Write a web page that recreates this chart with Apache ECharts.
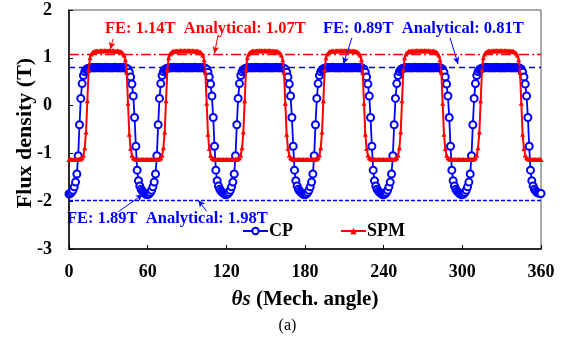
<!DOCTYPE html>
<html>
<head>
<meta charset="utf-8">
<script src="https://cdn.jsdelivr.net/npm/echarts@6/dist/echarts.min.js"></script>
<style>
html,body{margin:0;padding:0;background:#fff;}
#chart{width:575px;height:340px;}
</style>
</head>
<body>
<div id="chart"></div>
<script>
// Mechanical angle sampling (deg), 1 degree step from 0 to 360
const thetaStart = 0, thetaEnd = 360, thetaStep = 1;
const xTicks = [0, 60, 120, 180, 240, 300, 360];
const yTicks = [-3, -2, -1, 0, 1, 2];

// FE flux density of CP machine (T), theta = 0..360
const cpFE = [
-1.85,-1.84,-1.81,-1.77,-1.70,-1.60,-1.43,-1.05,-0.40,0.15,0.46,0.63,0.71,0.75,0.77,0.78,0.79,0.79,0.79,0.79,0.79,0.79,0.80,0.79,0.79,0.79,0.79,0.79,0.80,0.79,0.79,0.79,0.79,0.79,0.79,0.80,0.79,0.79,0.79,0.79,0.79,0.79,0.79,0.79,0.78,0.76,0.70,0.60,0.45,0.20,-0.25,-0.85,-1.35,-1.57,-1.68,-1.75,-1.79,-1.82,-1.84,-1.86,
-1.86,-1.85,-1.82,-1.77,-1.70,-1.60,-1.43,-1.05,-0.40,0.15,0.46,0.63,0.71,0.75,0.77,0.78,0.79,0.79,0.79,0.79,0.80,0.79,0.79,0.79,0.79,0.79,0.79,0.80,0.79,0.79,0.79,0.79,0.79,0.79,0.79,0.79,0.80,0.79,0.79,0.79,0.79,0.79,0.79,0.79,0.78,0.76,0.70,0.60,0.45,0.20,-0.25,-0.85,-1.35,-1.57,-1.68,-1.75,-1.79,-1.82,-1.84,-1.86,
-1.86,-1.85,-1.82,-1.77,-1.70,-1.60,-1.43,-1.05,-0.40,0.15,0.46,0.63,0.71,0.75,0.77,0.78,0.79,0.79,0.79,0.79,0.79,0.79,0.79,0.80,0.79,0.79,0.79,0.79,0.79,0.79,0.80,0.79,0.79,0.79,0.79,0.79,0.79,0.79,0.80,0.79,0.79,0.79,0.79,0.79,0.78,0.76,0.70,0.60,0.45,0.20,-0.25,-0.85,-1.35,-1.57,-1.68,-1.75,-1.79,-1.82,-1.84,-1.86,
-1.86,-1.85,-1.82,-1.77,-1.70,-1.60,-1.43,-1.05,-0.40,0.15,0.46,0.63,0.71,0.75,0.77,0.78,0.79,0.79,0.79,0.79,0.79,0.80,0.79,0.79,0.79,0.79,0.79,0.79,0.79,0.80,0.79,0.79,0.79,0.79,0.79,0.79,0.79,0.79,0.80,0.79,0.79,0.79,0.79,0.79,0.78,0.76,0.70,0.60,0.45,0.20,-0.25,-0.85,-1.35,-1.57,-1.68,-1.75,-1.79,-1.82,-1.84,-1.86,
-1.86,-1.85,-1.82,-1.77,-1.70,-1.60,-1.43,-1.05,-0.40,0.15,0.46,0.63,0.71,0.75,0.77,0.78,0.79,0.79,0.79,0.79,0.79,0.79,0.79,0.79,0.80,0.79,0.79,0.79,0.79,0.79,0.79,0.79,0.80,0.79,0.79,0.79,0.79,0.79,0.79,0.79,0.80,0.79,0.79,0.79,0.78,0.76,0.70,0.60,0.45,0.20,-0.25,-0.85,-1.35,-1.57,-1.68,-1.75,-1.79,-1.82,-1.84,-1.86,
-1.86,-1.85,-1.82,-1.77,-1.70,-1.60,-1.43,-1.05,-0.40,0.15,0.46,0.63,0.71,0.75,0.77,0.78,0.79,0.79,0.80,0.79,0.79,0.79,0.79,0.79,0.79,0.79,0.80,0.79,0.79,0.79,0.79,0.79,0.79,0.79,0.79,0.80,0.79,0.79,0.79,0.79,0.79,0.79,0.79,0.79,0.78,0.76,0.70,0.60,0.45,0.20,-0.25,-0.85,-1.35,-1.57,-1.68,-1.75,-1.79,-1.82,-1.83,-1.84,
-1.84
];

// FE flux density of SPM machine (T), theta = 0..360
const spmFE = [
-1.13,-1.13,-1.13,-1.13,-1.13,-1.13,-1.13,-1.12,-1.12,-1.11,-1.09,-1.04,-0.88,-0.55,0.10,0.75,1.00,1.08,1.11,1.13,1.14,1.14,1.14,1.14,1.15,1.15,1.15,1.15,1.15,1.15,1.15,1.15,1.15,1.15,1.15,1.14,1.14,1.14,1.14,1.13,1.12,1.10,1.06,0.96,0.70,0.05,-0.60,-0.90,-1.04,-1.09,-1.11,-1.12,-1.12,-1.13,-1.13,-1.13,-1.13,-1.13,-1.13,-1.13,
-1.13,-1.13,-1.13,-1.13,-1.13,-1.13,-1.13,-1.12,-1.12,-1.11,-1.09,-1.04,-0.88,-0.55,0.10,0.75,1.00,1.08,1.11,1.13,1.14,1.14,1.14,1.14,1.15,1.15,1.15,1.15,1.15,1.15,1.15,1.15,1.15,1.15,1.15,1.14,1.14,1.14,1.14,1.13,1.12,1.10,1.06,0.96,0.70,0.05,-0.60,-0.90,-1.04,-1.09,-1.11,-1.12,-1.12,-1.13,-1.13,-1.13,-1.13,-1.13,-1.13,-1.13,
-1.13,-1.13,-1.13,-1.13,-1.13,-1.13,-1.13,-1.12,-1.12,-1.11,-1.09,-1.04,-0.88,-0.55,0.10,0.75,1.00,1.08,1.11,1.13,1.14,1.14,1.14,1.14,1.15,1.15,1.15,1.15,1.15,1.15,1.15,1.15,1.15,1.15,1.15,1.14,1.14,1.14,1.14,1.13,1.12,1.10,1.06,0.96,0.70,0.05,-0.60,-0.90,-1.04,-1.09,-1.11,-1.12,-1.12,-1.13,-1.13,-1.13,-1.13,-1.13,-1.13,-1.13,
-1.13,-1.13,-1.13,-1.13,-1.13,-1.13,-1.13,-1.12,-1.12,-1.11,-1.09,-1.04,-0.88,-0.55,0.10,0.75,1.00,1.08,1.11,1.13,1.14,1.14,1.14,1.14,1.15,1.15,1.15,1.15,1.15,1.15,1.15,1.15,1.15,1.15,1.15,1.14,1.14,1.14,1.14,1.13,1.12,1.10,1.06,0.96,0.70,0.05,-0.60,-0.90,-1.04,-1.09,-1.11,-1.12,-1.12,-1.13,-1.13,-1.13,-1.13,-1.13,-1.13,-1.13,
-1.13,-1.13,-1.13,-1.13,-1.13,-1.13,-1.13,-1.12,-1.12,-1.11,-1.09,-1.04,-0.88,-0.55,0.10,0.75,1.00,1.08,1.11,1.13,1.14,1.14,1.14,1.14,1.15,1.15,1.15,1.15,1.15,1.15,1.15,1.15,1.15,1.15,1.15,1.14,1.14,1.14,1.14,1.13,1.12,1.10,1.06,0.96,0.70,0.05,-0.60,-0.90,-1.04,-1.09,-1.11,-1.12,-1.12,-1.13,-1.13,-1.13,-1.13,-1.13,-1.13,-1.13,
-1.13,-1.13,-1.13,-1.13,-1.13,-1.13,-1.13,-1.12,-1.12,-1.11,-1.09,-1.04,-0.88,-0.55,0.10,0.75,1.00,1.08,1.11,1.13,1.14,1.14,1.14,1.14,1.15,1.15,1.15,1.15,1.15,1.15,1.15,1.15,1.15,1.15,1.15,1.14,1.14,1.14,1.14,1.13,1.12,1.10,1.06,0.96,0.70,0.05,-0.60,-0.90,-1.04,-1.09,-1.11,-1.12,-1.12,-1.13,-1.13,-1.13,-1.13,-1.13,-1.13,-1.13,
-1.13
];

// Analytical reference levels (T)
const spmAnalyticalPeak = 1.07;
const cpAnalyticalPeak = 0.81;
const cpAnalyticalTrough = -1.98;

// Annotation texts
const annoSPM = 'FE: 1.14T  Analytical: 1.07T';
const annoCPTop = 'FE: 0.89T  Analytical: 0.81T';
const annoCPBottom = 'FE: 1.89T  Analytical: 1.98T';
const yAxisTitle = 'Flux density (T)';

const theta = [];
for (let t = thetaStart; t <= thetaEnd; t += thetaStep) theta.push(t);
const cpData = theta.map((t, i) => [t, cpFE[i]]);
const spmData = theta.map((t, i) => [t, spmFE[i]]);

const serif = 'Liberation Serif';
const BLUE = '#0000ff', RED = '#ff0000';

const chart = echarts.init(document.getElementById('chart'), null, {renderer: 'canvas'});

const blueArrowStyle = {color: BLUE, width: 1, type: 'solid'};
const redArrowStyle = {color: RED, width: 1, type: 'solid'};

const option = {
  animation: false,
  backgroundColor: '#fff',
  grid: {left: 69, right: 34, top: 10, bottom: 91, outerBoundsMode: 'none', containLabel: false,
         show: true, borderColor: '#555', borderWidth: 1, backgroundColor: 'transparent'},
  legend: {
    data: ['CP', 'SPM'],
    left: 237, top: 217,
    itemWidth: 25, itemHeight: 8, itemGap: 47,
    textStyle: {fontFamily: serif, fontWeight: 'bold', fontSize: 18, color: '#000', padding: [0, 0, 0, -4]}
  },
  xAxis: {
    type: 'value', min: xTicks[0], max: xTicks[xTicks.length - 1], interval: 60,
    axisLine: {onZero: false, lineStyle: {color: '#000', width: 1.5}},
    axisTick: {inside: true, length: 4, lineStyle: {color: '#000', width: 1}},
    axisLabel: {fontFamily: serif, fontWeight: 'bold', fontSize: 18, color: '#000', margin: 14},
    splitLine: {show: false},
    name: '{t|θs} (Mech. angle)',
    nameLocation: 'middle', nameGap: 40,
    nameTextStyle: {fontFamily: serif, fontWeight: 'bold', fontSize: 21, color: '#000',
      rich: {t: {fontFamily: serif, fontWeight: 'bold', fontStyle: 'italic', fontSize: 21, color: '#000'}}}
  },
  yAxis: {
    type: 'value', min: yTicks[0], max: yTicks[yTicks.length - 1], interval: 1,
    axisLine: {onZero: false, lineStyle: {color: '#000', width: 1.5}},
    axisTick: {inside: true, length: 4, lineStyle: {color: '#000', width: 1}},
    axisLabel: {fontFamily: serif, fontWeight: 'bold', fontSize: 18, color: '#000', margin: 17},
    splitLine: {show: false}
  },
  series: [
    {
      name: 'CP', type: 'line', data: cpData,
      symbol: 'emptyCircle', symbolSize: 7, showAllSymbol: true,
      lineStyle: {color: BLUE, width: 1.8},
      itemStyle: {color: BLUE, borderColor: BLUE, borderWidth: 1.2},
      z: 3,
      markLine: {
        silent: true, animation: false,
        label: {show: false},
        symbol: ['none', 'none'],
        lineStyle: {color: BLUE, width: 1.3, type: [6, 4]},
        data: [
          {yAxis: cpAnalyticalPeak},
          {yAxis: cpAnalyticalTrough, lineStyle: {color: BLUE, width: 1.3, type: [4, 2]}},
          [{coord: [215.8, 1.42], symbol: 'none', lineStyle: blueArrowStyle}, {coord: [209.3, 0.87], symbol: 'arrow', symbolSize: [5, 7]}],
          [{coord: [290.6, 1.42], symbol: 'none', lineStyle: blueArrowStyle}, {coord: [296.7, 0.87], symbol: 'arrow', symbolSize: [5, 7]}],
          [{coord: [37.6, -2.22], symbol: 'none', lineStyle: blueArrowStyle}, {coord: [56.3, -1.86], symbol: 'arrow', symbolSize: [5, 7]}],
          [{coord: [105.0, -2.21], symbol: 'none', lineStyle: blueArrowStyle}, {coord: [98.6, -1.98], symbol: 'arrow', symbolSize: [5, 7]}]
        ]
      }
    },
    {
      name: 'SPM', type: 'line', data: spmData,
      symbol: 'triangle', symbolSize: 5, showAllSymbol: true,
      lineStyle: {color: RED, width: 2},
      itemStyle: {color: RED},
      z: 4,
      markLine: {
        silent: true, animation: false,
        label: {show: false},
        symbol: ['none', 'none'],
        lineStyle: {color: RED, width: 1.3, type: [10, 3, 2, 3]},
        data: [
          {yAxis: spmAnalyticalPeak},
          [{coord: [33.6, 1.40], symbol: 'none', lineStyle: redArrowStyle}, {coord: [31.6, 1.18], symbol: 'arrow', symbolSize: [5, 7]}],
          [{coord: [113.6, 1.47], symbol: 'none', lineStyle: redArrowStyle}, {coord: [111.0, 1.09], symbol: 'arrow', symbolSize: [5, 7]}]
        ]
      }
    }
  ],
  graphic: [
    {type: 'text', x: 25, y: 133, rotation: Math.PI / 2,
     style: {text: yAxisTitle, fontFamily: serif, fontWeight: 'bold', fontSize: 22, fill: '#000', align: 'center', verticalAlign: 'middle'}},
    {type: 'text', left: 105, top: 20, style: {text: annoSPM, fontFamily: serif, fontWeight: 'bold', fontSize: 16.5, fill: RED}},
    {type: 'text', left: 323, top: 20, style: {text: annoCPTop, fontFamily: serif, fontWeight: 'bold', fontSize: 16.5, fill: BLUE}},
    {type: 'text', left: 67, top: 210, style: {text: annoCPBottom, fontFamily: serif, fontWeight: 'bold', fontSize: 16.5, fill: BLUE}},
    {type: 'text', left: 'center', top: 318, style: {text: '(a)', fontFamily: serif, fontSize: 16, fill: '#000'}}
  ]
};
chart.setOption(option);
</script>
</body>
</html>
